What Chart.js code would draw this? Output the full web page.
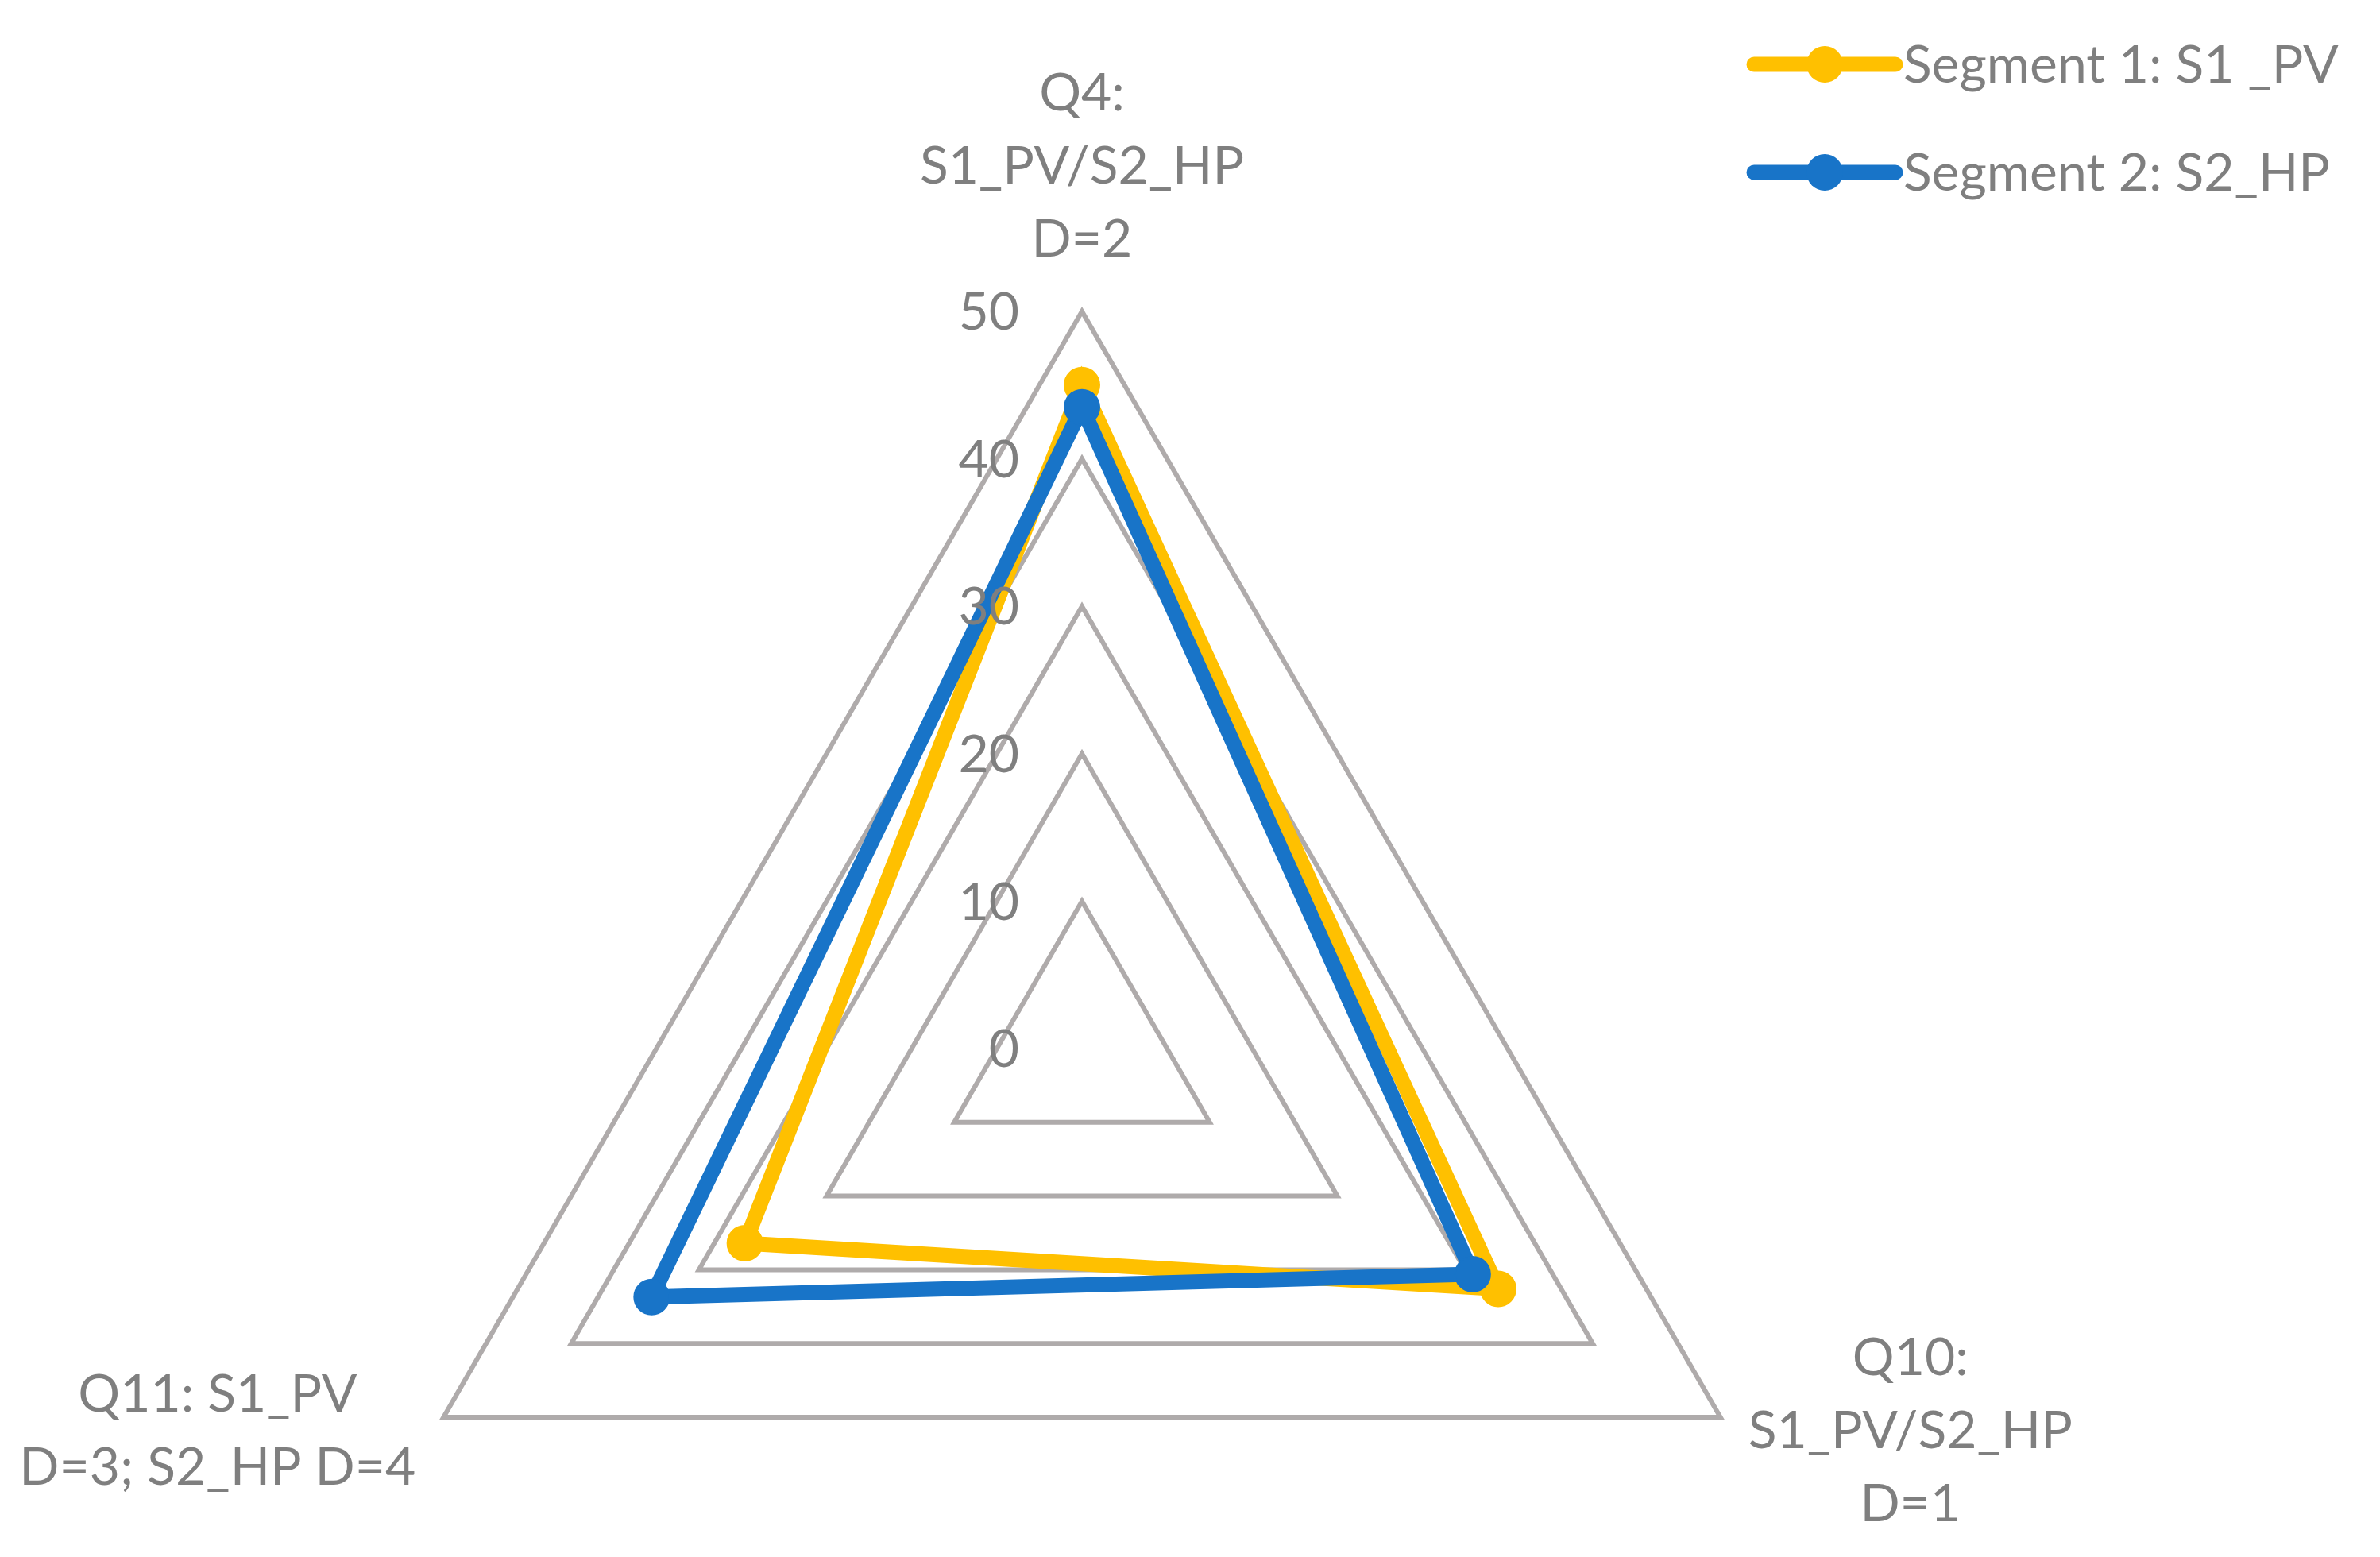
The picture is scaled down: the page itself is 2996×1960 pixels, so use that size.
<!DOCTYPE html>
<html>
<head>
<meta charset="utf-8">
<title>Radar</title>
<script src="https://cdn.jsdelivr.net/npm/chart.js@4.4.1/dist/chart.umd.min.js"></script>
<style>
  html, body { margin: 0; padding: 0; background: #fff; overflow: hidden; }
  #wrap { position: absolute; left: 0; top: 0; width: 2996px; height: 2248px; }
</style>
</head>
<body>
<div id="wrap"><canvas id="radar"></canvas></div>
<script>
// values
const axisLabels = [
  ['Q4:', 'S1_PV/S2_HP', 'D=2'],
  ['Q10:', 'S1_PV/S2_HP', 'D=1'],
  ['Q11: S1_PV', 'D=3; S2_HP D=4']
];
const seriesNames = ['Segment 1: S1 _PV', 'Segment 2: S2_HP'];
const segment1 = [45, 32.6, 26.4];
const segment2 = [43.5, 30.6, 33.7];
const tickValues = [0, 10, 20, 30, 40, 50];

const YELLOW = '#FFC000';
const BLUE = '#1874C8';
const TEXT = '#7F7F7F';
const GRID = '#AFABAB';
const FONT = '"Lato", "Open Sans", sans-serif';
const FONT_SIZE = 66;
const LINE_H = 92;

// tick labels sit left of the vertical axis, like Excel does it
const tickLabelsPlugin = {
  id: 'tickLabels',
  afterDraw(chart) {
    const s = chart.scales.r;
    const c = chart.ctx;
    c.save();
    c.font = FONT_SIZE + 'px ' + FONT;
    c.fillStyle = TEXT;
    c.textAlign = 'right';
    c.textBaseline = 'middle';
    s.ticks.forEach(t => {
      const d = s.getDistanceFromCenterForValue(t.value);
      c.fillText(String(t.value), s.xCenter - 79, s.yCenter - d + 2);
    });
    c.restore();
  }
};

// category labels outside each corner
const cornerLabelsPlugin = {
  id: 'cornerLabels',
  afterDraw(chart) {
    const s = chart.scales.r;
    const c = chart.ctx;
    c.save();
    c.font = FONT_SIZE + 'px ' + FONT;
    c.fillStyle = TEXT;
    c.textAlign = 'center';
    c.textBaseline = 'middle';
    axisLabels.forEach((lines, i) => {
      const p = s.getPointPosition(i, s.drawingArea);
      const w = Math.max(...lines.map(l => c.measureText(l).width));
      let cx, firstY;
      if (i === 0) {
        cx = p.x;
        firstY = p.y - 90 - (lines.length - 1) * LINE_H;
      } else {
        cx = p.x > s.xCenter ? p.x + 35 + w / 2 : p.x - 35 - w / 2;
        firstY = p.y + 18 - (lines.length - 1) * LINE_H / 2;
      }
      lines.forEach((l, k) => c.fillText(l, cx, firstY + k * LINE_H));
    });
    c.restore();
  }
};

// legend: line with a dot, text on the right
const legendPlugin = {
  id: 'lineLegend',
  afterDraw(chart) {
    const c = chart.ctx;
    c.save();
    c.font = FONT_SIZE + 'px ' + FONT;
    c.textAlign = 'left';
    c.textBaseline = 'middle';
    chart.data.datasets.forEach((ds, i) => {
      const y = 81 + i * 136;
      c.strokeStyle = ds.borderColor;
      c.lineWidth = 19;
      c.lineCap = 'round';
      c.beginPath();
      c.moveTo(2208, y);
      c.lineTo(2386, y);
      c.stroke();
      c.fillStyle = ds.borderColor;
      c.beginPath();
      c.arc(2297, y, 23, 0, Math.PI * 2);
      c.fill();
      c.fillStyle = TEXT;
      c.fillText(ds.label, 2396, y + 2);
    });
    c.restore();
  }
};

const ctx = document.getElementById('radar').getContext('2d');

new Chart(ctx, {
  type: 'radar',
  data: {
    labels: axisLabels,
    datasets: [
      {
        label: seriesNames[0],
        data: segment1,
        borderColor: YELLOW,
        backgroundColor: YELLOW,
        pointBackgroundColor: YELLOW,
        pointBorderColor: YELLOW,
        borderWidth: 19,
        pointRadius: 22,
        pointBorderWidth: 2,
        fill: false,
        order: 1
      },
      {
        label: seriesNames[1],
        data: segment2,
        borderColor: BLUE,
        backgroundColor: BLUE,
        pointBackgroundColor: BLUE,
        pointBorderColor: BLUE,
        borderWidth: 19,
        pointRadius: 22,
        pointBorderWidth: 2,
        fill: false,
        order: 0
      }
    ]
  },
  options: {
    responsive: true,
    maintainAspectRatio: false,
    animation: false,
    layout: { padding: { left: 434, right: 706, top: 392, bottom: 0 } },
    plugins: {
      legend: { display: false },
      tooltip: { enabled: false }
    },
    scales: {
      r: {
        min: tickValues[0],
        max: tickValues[tickValues.length - 1],
        ticks: { stepSize: 10, display: false },
        grid: { color: GRID, lineWidth: 6, circular: false },
        angleLines: { display: false },
        pointLabels: { display: false }
      }
    }
  },
  plugins: [tickLabelsPlugin, cornerLabelsPlugin, legendPlugin]
});
</script>
</body>
</html>
